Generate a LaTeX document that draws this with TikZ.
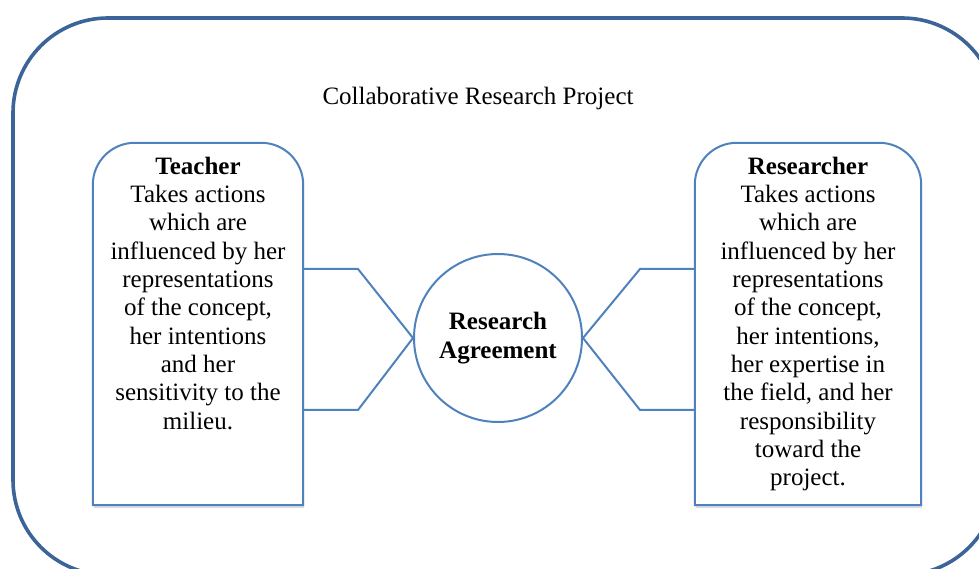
\documentclass[tikz,border=0pt]{standalone}
\usepackage{fontspec}
\setmainfont{Liberation Serif}
\usepackage{tikz}
\usetikzlibrary{positioning, shapes, shadows}

\definecolor{framecol}{RGB}{60,100,152}
\definecolor{boxcol}{RGB}{79,129,189}

\tikzset{
  panel/.style={rectangle, draw=none, minimum width=#1, minimum height=362, inner sep=0},
  paneltext/.style={align=center, font=\fontsize{25}{28.3}\selectfont, inner sep=0},
  outline/.style={draw=boxcol, line width=2pt},
  agree/.style={circle, draw=boxcol, line width=2pt, minimum size=168, align=center,
                font=\fontsize{25}{29}\selectfont\bfseries}
}

\begin{document}
\begin{tikzpicture}[x=1pt,y=1pt]
\useasboundingbox (0,0) rectangle (979,569);

% big frame round the whole project
\draw[framecol, line width=3.6pt, rounded corners=95] (13,-6) rectangle (997,551);
\node[font=\fontsize{25}{28}\selectfont] (title) at (478,471) {Collaborative Research Project};

\node[panel=210](teacher) at (198,245) {};
\node[panel=226](researcher) at (808,245) {};
\node[agree](ra) at (498,231) {Research\\Agreement};

% panels: round top, square bottom
\draw[outline, fill=white, drop shadow={opacity=0.25, shadow xshift=1pt, shadow yshift=-3pt}]
      (teacher.south west) -- ([yshift=-42pt]teacher.north west)
      arc[start angle=180, end angle=90, radius=42] -- ([xshift=-42pt]teacher.north east)
      arc[start angle=90, end angle=0, radius=42] -- (teacher.south east) -- cycle;
\draw[outline, fill=white, drop shadow={opacity=0.25, shadow xshift=1pt, shadow yshift=-3pt}]
      (researcher.south west) -- ([yshift=-42pt]researcher.north west)
      arc[start angle=180, end angle=90, radius=42] -- ([xshift=-42pt]researcher.north east)
      arc[start angle=90, end angle=0, radius=42] -- (researcher.south east) -- cycle;

\node[paneltext, below=14pt of teacher.north](tt) {\textbf{Teacher}\\Takes actions\\which are\\influenced by her\\representations\\of the concept,\\her intentions\\and her\\sensitivity to the\\milieu.};
\node[paneltext, below=14pt of researcher.north](rt) {\textbf{Researcher}\\Takes actions\\which are\\influenced by her\\representations\\of the concept,\\her intentions,\\her expertise in\\the field, and her\\responsibility\\toward the\\project.};

% links into the agreement
\coordinate (tu) at (358,300);
\coordinate (tl) at (358,159);
\coordinate (ru) at (640,300);
\coordinate (rl) at (640,159);

\draw[outline] (teacher.east |- tu) -- (tu) -- (ra.west) -- (tl) -- (teacher.east |- tl);
\draw[outline] (researcher.west |- ru) -- (ru) -- (ra.east) -- (rl) -- (researcher.west |- rl);

\end{tikzpicture}
\end{document}
